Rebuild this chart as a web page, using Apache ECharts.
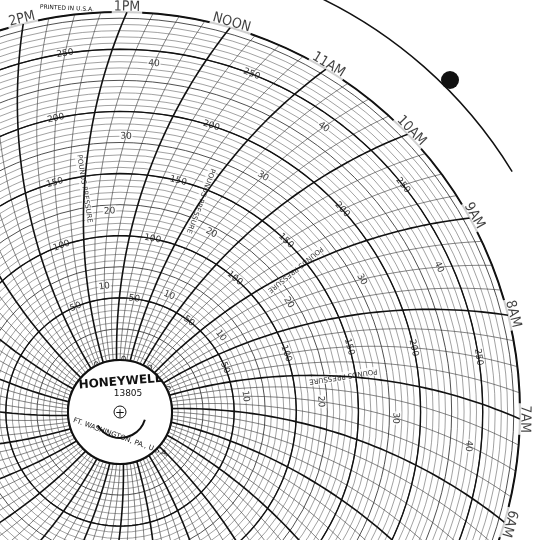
<!DOCTYPE html>
<html><head><meta charset="utf-8">
<script src="https://cdn.jsdelivr.net/npm/echarts@6/dist/echarts.min.js"></script>
<style>html,body{margin:0;background:#fff}#box{width:537px;height:540px}</style>
</head><body><div id="box"></div>
<script>
// chart paper: 24 hour disc, hours labelled at the rim
var hourLabels = ['6AM', '7AM', '8AM', '9AM', '10AM', '11AM', 'NOON', '1PM', '2PM']
var hourValues = [6, 7, 8, 9, 10, 11, 12, 13, 14]
var pressureTicks = [0, 50, 100, 150, 200, 250]
var tempTicks = [10, 20, 30, 40]
var scaleHours = [7.5, 9.5, 11.5, 13.5] // where the scale numbers are printed

var CX = 120, CY = 412, R0 = 52, R1 = 400, RMAX = 280
var ARM = 520
function px(v) { return R0 + v * (R1 - R0) / RMAX }
function rimAngle(h) { return 74 + (h - 12) * 15 }
// pen arc: hour lines bend as they go out
function ang(h, v) {
    var off = Math.asin(R1 / (2 * ARM)) - Math.asin(px(v) / (2 * ARM))
    var a = rimAngle(h) + off * 180 / Math.PI
    return (a + 720) % 360
}

var major = [], minor = []
for (var q = 0; q < 96; q++) {
    var h = q / 4
    var target = q % 4 === 0 ? major : minor
    for (var v = 0; v <= RMAX; v += 5) target.push([v, ang(h, v)])
    target.push(['-', '-'])
}
var bold = []
for (var b = 50; b <= 250; b += 50) {
    for (var a = 0; a <= 360; a += 2) bold.push([b, a])
    bold.push(['-', '-'])
}

var hourPts = hourValues.map(function (h, i) {
    return { value: [100, rimAngle(h)], label: { formatter: hourLabels[i], rotate: rimAngle(h) - 90 } }
})
var numPts = []
scaleHours.forEach(function (h) {
    pressureTicks.forEach(function (p) {
        var a = ang(h, p)
        numPts.push({ value: [p, a], label: { formatter: String(p), rotate: a - 90 } })
    })
    tempTicks.forEach(function (t) {
        var a = ang(h - 1, t * 6)
        numPts.push({ value: [t * 6, a], label: { formatter: String(t), rotate: a - 90 } })
    })
    var a2 = ang(h - 0.5, 140)
    numPts.push({ value: [140, a2], label: { formatter: 'POUNDS PRESSURE', rotate: a2 - 180, fontSize: 7 } })
})

var hidden = {
    axisLine: { show: false }, axisTick: { show: false }, axisLabel: { show: false }, splitLine: { show: false }
}
var Chart = echarts.init(document.getElementById('box'))
var option = {
    backgroundColor: '#fff',
    animation: false,
    polar: [{ center: [CX, CY], radius: [R0, R1] }, { center: [CX, CY], radius: [0, R1 + 5] }],
    angleAxis: [{
        type: 'value', min: 0, max: 360, startAngle: 0, clockwise: false,
        axisLine: { lineStyle: { color: '#111', width: 2 } },
        axisTick: { show: false }, axisLabel: { show: false }, splitLine: { show: false }
    }, Object.assign({ polarIndex: 1, type: 'value', min: 0, max: 360, startAngle: 0, clockwise: false }, hidden)],
    radiusAxis: [{
        type: 'value', min: 0, max: RMAX, interval: 25,
        axisLine: { show: false }, axisTick: { show: false }, axisLabel: { show: false },
        splitLine: { lineStyle: { color: '#222', width: 0.8 } },
        minorTick: { show: false, splitNumber: 5 },
        minorSplitLine: { show: true, lineStyle: { color: '#444', width: 0.5 } }
    }, Object.assign({ polarIndex: 1, type: 'value', min: 0, max: 100 }, hidden)],
    series: [
        { type: 'line', coordinateSystem: 'polar', data: minor, symbol: 'none', connectNulls: false,
          lineStyle: { color: '#333', width: 0.6 }, silent: true },
        { type: 'line', coordinateSystem: 'polar', data: major, symbol: 'none', connectNulls: false,
          lineStyle: { color: '#111', width: 1.6 }, silent: true },
        { type: 'line', coordinateSystem: 'polar', data: bold, symbol: 'none', connectNulls: false,
          lineStyle: { color: '#111', width: 1.4 }, silent: true },
        { type: 'scatter', coordinateSystem: 'polar', polarIndex: 1, data: hourPts, symbolSize: 0,
          label: { show: true, color: '#111', fontSize: 14, fontFamily: 'Liberation Sans Narrow, DejaVu Sans Condensed, sans-serif',
                   backgroundColor: '#fff', padding: [0, 2] } },
        { type: 'scatter', coordinateSystem: 'polar', data: numPts, symbolSize: 0,
          label: { show: true, color: '#000', fontSize: 9, fontFamily: 'DejaVu Sans', backgroundColor: '#fff', padding: 1 } }
    ],
    graphic: [
        { type: 'circle', shape: { cx: CX, cy: CY, r: R0 }, style: { fill: '#fff', stroke: '#111', lineWidth: 2 }, z: 10 },
        { type: 'text', x: CX, y: CY - 36, style: { text: 'HONEYWELL', font: 'bold 12px DejaVu Sans', align: 'center', fill: '#111' }, rotation: 0.08, z: 11 },
        { type: 'text', x: CX + 8, y: CY - 23, style: { text: '13805', font: '9px DejaVu Sans', align: 'center', fill: '#111' }, z: 11 },
        { type: 'arc', shape: { cx: CX, cy: CY, r: 26, startAngle: 0.3, endAngle: 2.6 }, style: { stroke: '#111', lineWidth: 2, fill: null }, z: 11 },
        { type: 'text', x: CX, y: CY + 2, style: { text: '+', font: '12px DejaVu Sans', align: 'center', verticalAlign: 'middle', fill: '#111' }, z: 11 },
        { type: 'circle', shape: { cx: CX, cy: CY, r: 6 }, style: { fill: null, stroke: '#111' }, z: 11 },
        { type: 'text', x: CX + 2, y: CY + 22, style: { text: 'FT. WASHINGTON, PA., U.S.A.', font: '7px DejaVu Sans', align: 'center', fill: '#111' }, rotation: -0.35, z: 11 },
        { type: 'text', x: 40, y: 4, style: { text: 'PRINTED IN U.S.A.', font: '6px DejaVu Sans', fill: '#111' }, rotation: -0.05 },
        { type: 'circle', shape: { cx: 450, cy: 80, r: 9 }, style: { fill: '#111' } },
        { type: 'arc', shape: { cx: CX, cy: CY, r: 460, startAngle: -1.15, endAngle: -0.55 }, style: { stroke: '#111', lineWidth: 1.5, fill: null } }
    ]
}
Chart.setOption(option)
</script></body></html>
